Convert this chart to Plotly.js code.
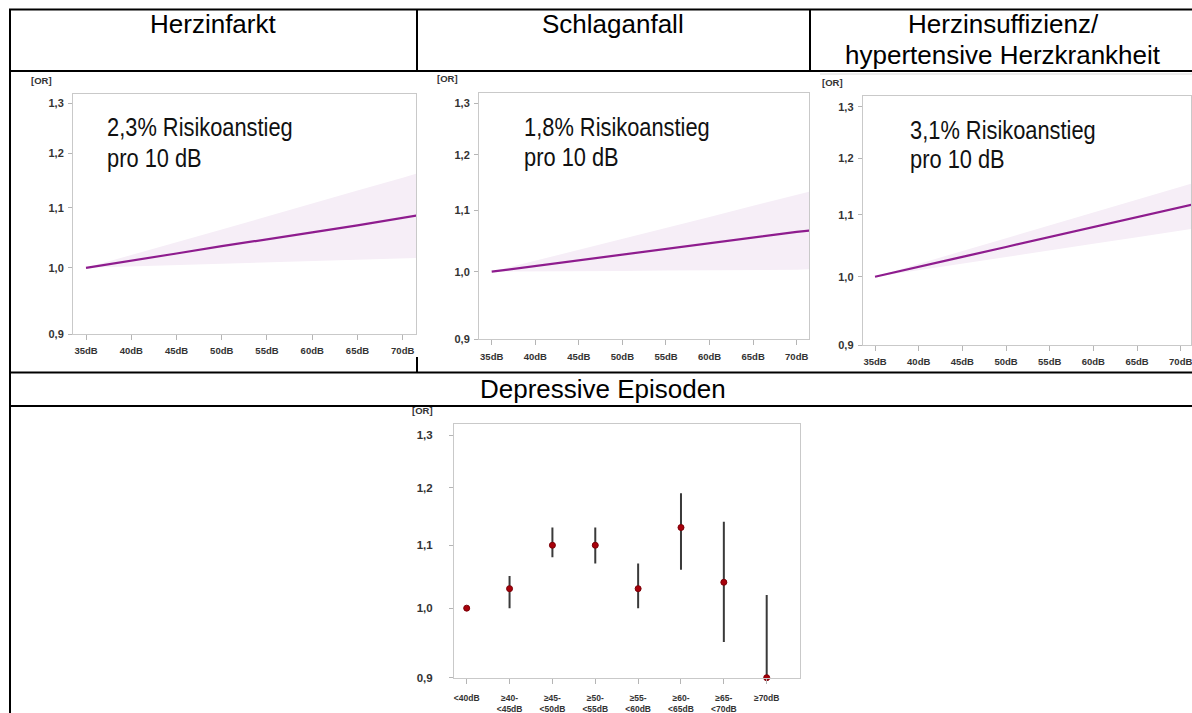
<!DOCTYPE html>
<html>
<head>
<meta charset="utf-8">
<script src="https://cdn.plot.ly/plotly-3.0.1.min.js"></script>
<style>
  html, body { margin: 0; padding: 0; background: #ffffff; }
  #chart { width: 1192px; height: 713px; }
</style>
</head>
<body>
<div id="chart"></div>
<script>
// ---- data ---------------------------------------------------------------
// noise level (dB) at which the exposure-response curves are evaluated
const dbX = [35, 40, 45, 50, 55, 60, 65, 70, 72];
const dbTicks = [35, 40, 45, 50, 55, 60, 65, 70];
const dbTickLabels = ['35dB', '40dB', '45dB', '50dB', '55dB', '60dB', '65dB', '70dB'];
const orTicks = [0.9, 1.0, 1.1, 1.2, 1.3];
const refOR = 1.0;

// Herzinfarkt: odds ratio and 95% band
const miOR    = [1.000, 1.011, 1.023, 1.035, 1.046, 1.058, 1.070, 1.082, 1.088];
const miUpper = [1.000, 1.021, 1.042, 1.063, 1.085, 1.108, 1.131, 1.154, 1.164];
const miLower = [1.000, 1.002, 1.004, 1.006, 1.009, 1.011, 1.013, 1.015, 1.016];

// Schlaganfall
const strokeOR    = [1.000, 1.009, 1.018, 1.027, 1.036, 1.045, 1.054, 1.064, 1.067];
const strokeUpper = [1.000, 1.017, 1.035, 1.053, 1.071, 1.089, 1.108, 1.127, 1.135];
const strokeLower = [1.000, 1.000, 1.001, 1.001, 1.002, 1.002, 1.003, 1.003, 1.004];

// Herzinsuffizienz / hypertensive Herzkrankheit
const hfOR    = [1.000, 1.015, 1.031, 1.047, 1.063, 1.079, 1.096, 1.113, 1.120];
const hfUpper = [1.000, 1.020, 1.040, 1.061, 1.083, 1.104, 1.127, 1.149, 1.158];
const hfLower = [1.000, 1.010, 1.021, 1.031, 1.041, 1.052, 1.063, 1.074, 1.078];

// risk increase per 10 dB (percent, German notation)
const riskPer10dB = ['2,3', '1,8', '3,1'];

// Depressive Episoden: odds ratios per noise band
const noiseBands = ['<40dB', '≥40-<45dB', '≥45-<50dB', '≥50-<55dB', '≥55-<60dB', '≥60-<65dB', '≥65-<70dB', '≥70dB'];
const bandTickText = ['&lt;40dB', '≥40-<br>&lt;45dB', '≥45-<br>&lt;50dB', '≥50-<br>&lt;55dB', '≥55-<br>&lt;60dB', '≥60-<br>&lt;65dB', '≥65-<br>&lt;70dB', '≥70dB'];
const depOR    = [1.00, 1.03, 1.10, 1.10, 1.03, 1.13, 1.04, 0.90];
const depLower = [1.00, 1.00, 1.08, 1.07, 1.00, 1.06, 0.95, 0.90];
const depUpper = [1.00, 1.05, 1.13, 1.13, 1.07, 1.19, 1.14, 1.02];

const panelTitles = ['Herzinfarkt', 'Schlaganfall', 'Herzinsuffizienz/', 'hypertensive Herzkrankheit', 'Depressive Episoden'];

// ---- page geometry (pixels) --------------------------------------------
const W = 1192, H = 713;
const fx = p => p / W;
const fy = p => 1 - p / H;

const LINE_COL = '#8e1c8e';
const BAND_COL = '#f6eef7';
const FRAME_COL = '#c9c9c9';
const TICK_FONT = 'Liberation Sans, Arial, sans-serif';
const TEXT_FONT = 'Liberation Sans, Arial, sans-serif';
const RISK_STRETCH = 0.84;   // condensed look of the in-plot captions

// plot boxes: l/r/t/b edges, where the 35dB / 70dB ticks and the 1,3 tick sit
const curvePanels = [
  { l: 73,    r: 416,  t: 94,   b: 334,   x35: 86,    x70: 402.7,  y13: 103 },
  { l: 479,   r: 809,  t: 93.3, b: 339.3, x35: 491.7, x70: 796.7,  y13: 103.3 },
  { l: 862.7, r: 1191, t: 96,   b: 345,   x35: 875,   x70: 1180.7, y13: 106.7 }
];
const depPanel = { l: 454, r: 800, t: 424.3, b: 677.7, xFirst: 466.7, xLast: 766.7, y13: 435 };

function logRange(p) {
  const lo = Math.log10(0.9), hi = Math.log10(1.3);
  const pxPerUnit = (p.b - p.y13) / (hi - lo);
  return [lo, lo + (p.b - p.t) / pxPerUnit];
}

function yAxis(p, anchor, fontSize) {
  return {
    domain: [fy(p.b), fy(p.t)], anchor: anchor, type: 'log', range: logRange(p),
    tickvals: orTicks, tickformat: '.1f',
    showline: true, mirror: true, linecolor: FRAME_COL, linewidth: 1,
    ticks: 'outside', ticklen: 4, tickcolor: '#b5b5b5', tickwidth: 1,
    tickfont: { family: TICK_FONT, size: fontSize, color: '#333333', weight: 'bold' },
    ticklabelstandoff: 2,
    showgrid: false, zeroline: false, fixedrange: true
  };
}

const layout = {
  width: W, height: H,
  margin: { l: 0, r: 0, t: 0, b: 0, pad: 0 },
  paper_bgcolor: '#ffffff', plot_bgcolor: '#ffffff',
  separators: ',.',
  showlegend: false,
  shapes: [], annotations: []
};

const traces = [];
const curveData = [
  { or: miOR, up: miUpper, lo: miLower },
  { or: strokeOR, up: strokeUpper, lo: strokeLower },
  { or: hfOR, up: hfUpper, lo: hfLower }
];

curvePanels.forEach((p, i) => {
  const n = i + 1;
  const xName = n === 1 ? 'xaxis' : 'xaxis' + n;
  const yName = n === 1 ? 'yaxis' : 'yaxis' + n;
  const xRef = n === 1 ? 'x' : 'x' + n;
  const yRef = n === 1 ? 'y' : 'y' + n;
  const pxPerDb = (p.x70 - p.x35) / 35;
  layout[xName] = {
    domain: [fx(p.l), fx(p.r)], anchor: yRef,
    range: [35 - (p.x35 - p.l) / pxPerDb, 35 + (p.r - p.x35) / pxPerDb],
    tickvals: dbTicks, ticktext: dbTickLabels,
    showline: true, mirror: true, linecolor: FRAME_COL, linewidth: 1,
    ticks: 'outside', ticklen: 5, tickcolor: '#b5b5b5', tickwidth: 1,
    tickfont: { family: TICK_FONT, size: 9.5, color: '#333333', weight: 'bold' },
    ticklabelstandoff: 3, ticklabeloverflow: 'allow',
    showgrid: false, zeroline: false, fixedrange: true
  };
  layout[yName] = yAxis(p, xRef, 11);

  const d = curveData[i];
  traces.push({ type: 'scatter', mode: 'lines', x: dbX, y: d.lo, xaxis: xRef, yaxis: yRef,
                line: { width: 0, color: BAND_COL }, hoverinfo: 'skip' });
  traces.push({ type: 'scatter', mode: 'lines', x: dbX, y: d.up, xaxis: xRef, yaxis: yRef,
                fill: 'tonexty', fillcolor: BAND_COL, line: { width: 0, color: BAND_COL }, hoverinfo: 'skip' });
  traces.push({ type: 'scatter', mode: 'lines', x: dbX, y: d.or, xaxis: xRef, yaxis: yRef,
                line: { width: 2.2, color: LINE_COL }, hoverinfo: 'skip' });

  // reference line at OR = 1
  layout.shapes.push({ type: 'line', xref: xRef + ' domain', yref: yRef, x0: 0, x1: 1,
                       y0: Math.log10(refOR), y1: Math.log10(refOR),
                       line: { color: '#a8a8a8', width: 1.5 }, layer: 'below' });
});

// Depressive Episoden panel
(function () {
  const p = depPanel;
  const step = (p.xLast - p.xFirst) / 7;
  layout.xaxis4 = {
    domain: [fx(p.l), fx(p.r)], anchor: 'y4', type: 'category',
    categoryorder: 'array', categoryarray: noiseBands,
    range: [-(p.xFirst - p.l) / step, 7 + (p.r - p.xLast) / step],
    tickvals: noiseBands, ticktext: bandTickText,
    showline: true, mirror: true, linecolor: FRAME_COL, linewidth: 1,
    ticks: 'outside', ticklen: 5, tickcolor: '#b5b5b5', tickwidth: 1,
    tickfont: { family: TICK_FONT, size: 8.5, color: '#333333', weight: 'bold' },
    ticklabelstandoff: 7, ticklabeloverflow: 'allow',
    showgrid: false, zeroline: false, fixedrange: true
  };
  layout.yaxis4 = yAxis(p, 'x4', 11.5);
  layout.yaxis4.ticklabelstandoff = 14;
  layout.shapes.push({ type: 'line', xref: 'x4 domain', yref: 'y4', x0: 0, x1: 1,
                       y0: Math.log10(refOR), y1: Math.log10(refOR),
                       line: { color: '#a8a8a8', width: 1.5 }, layer: 'below' });
  traces.push({
    type: 'scatter', mode: 'markers', x: noiseBands, y: depOR, xaxis: 'x4', yaxis: 'y4',
    marker: { size: 6, color: '#a8000a', line: { color: '#7a0008', width: 1 } },
    error_y: {
      type: 'data', symmetric: false,
      array: depUpper.map((u, k) => u - depOR[k]),
      arrayminus: depOR.map((v, k) => v - depLower[k]),
      width: 0, thickness: 2, color: '#3a3a3a'
    },
    cliponaxis: false, hoverinfo: 'skip'
  });
})();

// ---- table frame -------------------------------------------------------
function hLine(y, x0, x1, w) {
  layout.shapes.push({ type: 'line', xref: 'paper', yref: 'paper', x0: fx(x0), x1: fx(x1), y0: fy(y), y1: fy(y),
                       line: { color: '#000000', width: w || 2 }, layer: 'above' });
}
function vLine(x, y0, y1, w) {
  layout.shapes.push({ type: 'line', xref: 'paper', yref: 'paper', x0: fx(x), x1: fx(x), y0: fy(y0), y1: fy(y1),
                       line: { color: '#000000', width: w || 2 }, layer: 'above' });
}
hLine(9.5, 9, 1196);
hLine(71, 9, 1196);
hLine(372.5, 9, 1196);
hLine(406, 9, 1196);
vLine(10, 9, 714);
vLine(417, 9, 71);
vLine(417, 357, 372.5);
vLine(810, 9, 71);
// thin grey edge above the right-hand graphic
layout.shapes.push({ type: 'line', xref: 'paper', yref: 'paper', x0: fx(820), x1: fx(1192), y0: fy(74), y1: fy(74),
                     line: { color: '#d8d8d8', width: 1 } });

// ---- texts -------------------------------------------------------------
function txt(text, x, y, opts) {
  layout.annotations.push(Object.assign({
    text: text, xref: 'paper', yref: 'paper', x: fx(x), y: fy(y),
    xanchor: 'center', yanchor: 'middle', showarrow: false,
    font: { family: TEXT_FONT, size: 26, color: '#000000' }
  }, opts || {}));
}
txt(panelTitles[0], 213, 24);
txt(panelTitles[1], 613, 24);
txt(panelTitles[2], 1003, 24);
txt(panelTitles[3], 1003, 55);
txt(panelTitles[4], 603, 389);

const orLabelFont = { family: TICK_FONT, size: 9.5, color: '#333333', weight: 'bold' };
[[41, 80], [447, 79], [832, 83], [423, 410]].forEach(pos => txt('[OR]', pos[0], pos[1], { font: orLabelFont }));

const riskIdx = [];
const riskPos = [[105, 127.5, 157.5], [522, 127, 156.5], [908, 129.5, 159]];
riskPos.forEach((pos, i) => {
  const f = { family: TEXT_FONT, size: 26, color: '#111111' };
  riskIdx.push(layout.annotations.length);
  txt(riskPer10dB[i] + '% Risikoanstieg', pos[0], pos[1], { xanchor: 'left', font: f });
  riskIdx.push(layout.annotations.length);
  txt('pro 10 dB', pos[0], pos[2], { xanchor: 'left', font: f });
});

Plotly.newPlot('chart', traces, layout, { staticPlot: true, displayModeBar: false }).then(gd => {
  // narrow the in-plot captions horizontally, keeping their left edge fixed
  riskIdx.forEach(k => {
    const t = gd.querySelector('g.annotation[data-index="' + k + '"] text.annotation-text');
    if (!t) return;
    const b = t.getBBox();
    t.setAttribute('transform', 'translate(' + b.x + ',0) scale(' + RISK_STRETCH + ',1) translate(' + (-b.x) + ',0)');
  });
});
</script>
</body>
</html>
